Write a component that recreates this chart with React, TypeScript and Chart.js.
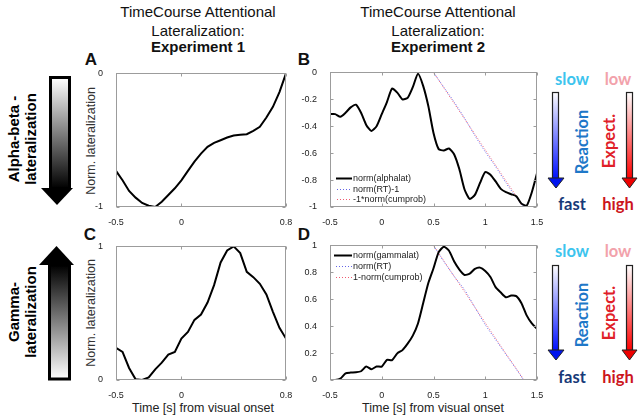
import React, { useEffect, useRef } from "react";
import { Chart, registerables } from "chart.js";

Chart.register(...registerables);

// ---------------- data ----------------
const timeExp1 = [-0.5, -0.45, -0.4, -0.35, -0.3, -0.25, -0.2, -0.15, -0.1, -0.05, 0, 0.05, 0.1, 0.15, 0.2, 0.25, 0.3, 0.35, 0.4, 0.45, 0.5, 0.55, 0.6, 0.65, 0.7, 0.75, 0.8];
const alphaExp1 = [-0.73, -0.8, -0.88, -0.93, -0.97, -0.99, -1.0, -0.96, -0.91, -0.86, -0.8, -0.73, -0.66, -0.6, -0.55, -0.52, -0.5, -0.48, -0.465, -0.46, -0.455, -0.43, -0.4, -0.33, -0.25, -0.14, 0];
const gammaExp1 = [0.24, 0.21, 0.09, 0.005, 0.0, 0.02, 0.08, 0.13, 0.19, 0.21, 0.31, 0.36, 0.45, 0.49, 0.58, 0.71, 0.88, 0.97, 1.0, 0.95, 0.81, 0.77, 0.72, 0.64, 0.51, 0.39, 0.31];

const timeExp2 = [-0.5, -0.45, -0.4, -0.35, -0.3, -0.25, -0.2, -0.15, -0.1, -0.05, 0, 0.05, 0.1, 0.15, 0.2, 0.25, 0.3, 0.35, 0.4, 0.45, 0.5, 0.55, 0.6, 0.65, 0.7, 0.75, 0.8, 0.85, 0.9, 0.95, 1, 1.05, 1.1, 1.15, 1.2, 1.25, 1.3, 1.35, 1.4, 1.45, 1.5];
const alphaExp2 = [-0.31, -0.31, -0.33, -0.3, -0.26, -0.24, -0.3, -0.39, -0.435, -0.4, -0.31, -0.22, -0.12, -0.15, -0.2, -0.19, -0.11, -0.01, -0.1, -0.25, -0.45, -0.57, -0.58, -0.565, -0.61, -0.72, -0.87, -0.94, -0.91, -0.82, -0.74, -0.76, -0.81, -0.865, -0.89, -0.905, -0.92, -0.975, -0.99, -0.89, -0.75];
const gammaExp2 = [0.0, 0.0, 0.01, 0.05, 0.055, 0.057, 0.065, 0.1, 0.08, 0.1, 0.1, 0.15, 0.148, 0.198, 0.222, 0.27, 0.33, 0.42, 0.57, 0.72, 0.83, 0.95, 0.99, 0.96, 0.88, 0.82, 0.78, 0.79, 0.825, 0.835, 0.81, 0.765, 0.69, 0.65, 0.615, 0.627, 0.623, 0.57, 0.48, 0.42, 0.38];

const rtTimeB = [0.5, 0.6, 0.7, 0.8, 0.9, 1.0, 1.1, 1.2, 1.3, 1.37];
const rtB = [0, -0.11, -0.22, -0.34, -0.47, -0.59, -0.7, -0.82, -0.93, -1];
const cumTimeB = [0.5, 0.6, 0.7, 0.8, 0.9, 1.0, 1.1, 1.2, 1.3, 1.36];
const cumB = [0, -0.115, -0.23, -0.345, -0.46, -0.575, -0.69, -0.805, -0.92, -1];

const rtTimeD = [0.5, 0.6, 0.7, 0.8, 0.9, 1.0, 1.1, 1.2, 1.3, 1.37];
const rtD = [1, 0.88, 0.77, 0.67, 0.54, 0.41, 0.3, 0.19, 0.08, 0];
const cumTimeD = [0.5, 0.6, 0.7, 0.8, 0.9, 1.0, 1.1, 1.2, 1.3, 1.375];
const cumD = [1, 0.885, 0.77, 0.655, 0.54, 0.425, 0.31, 0.195, 0.085, 0];

const xTicksExp1 = [-0.5, 0, 0.8];
const xTicksExp2 = [-0.5, 0, 0.5, 1, 1.5];
const yTicksA = [-1, 0];
const yTicksB = [-1, -0.8, -0.6, -0.4, -0.2, 0];
const yTicksC = [0, 1];
const yTicksD = [0, 0.2, 0.4, 0.6, 0.8, 1];

const labelsB = ["norm(alphalat)", "norm(RT)-1", "-1*norm(cumprob)"];
const labelsD = ["norm(gammalat)", "norm(RT)", "1-norm(cumprob)"];

// ---------------- helpers ----------------
const FONT = 'Arial, "Liberation Sans", sans-serif';
const PADL = 30;
const PADT = 10;
const PADR = 12;
const XH = 18;

const pts = (xs: number[], ys: number[]) => xs.map((x, i) => ({ x, y: ys[i] }));

const boxPlugin = {
  id: "matlabBox",
  afterDraw(chart: any) {
    const { ctx, chartArea: a, scales } = chart;
    ctx.save();
    ctx.strokeStyle = "#9c9c9c";
    ctx.lineWidth = 1;
    const l = Math.round(a.left) + 0.5;
    const t = Math.round(a.top) + 0.5;
    const r = Math.round(a.right) - 0.5;
    const b = Math.round(a.bottom) - 0.5;
    ctx.strokeRect(l, t, r - l, b - t);
    ctx.beginPath();
    scales.x.ticks.forEach((tk: any) => {
      const px = Math.round(scales.x.getPixelForValue(tk.value)) + 0.5;
      ctx.moveTo(px, b);
      ctx.lineTo(px, b - 3);
      ctx.moveTo(px, t);
      ctx.lineTo(px, t + 3);
    });
    scales.y.ticks.forEach((tk: any) => {
      const py = Math.round(scales.y.getPixelForValue(tk.value)) + 0.5;
      ctx.moveTo(l, py);
      ctx.lineTo(l + 3, py);
      ctx.moveTo(r, py);
      ctx.lineTo(r - 3, py);
    });
    ctx.stroke();
    ctx.restore();
  },
};

const legendPlugin = {
  id: "insideLegend",
  afterDatasetsDraw(chart: any, _args: any, opts: any) {
    if (!opts || !opts.show) return;
    const { ctx, chartArea: a } = chart;
    ctx.save();
    ctx.font = "9px " + FONT;
    ctx.textBaseline = "middle";
    chart.data.datasets.forEach((ds: any, i: number) => {
      const y = Math.round(a.top + opts.y + i * opts.dy) + 0.5;
      ctx.beginPath();
      ctx.setLineDash(ds.borderDash || []);
      ctx.strokeStyle = ds.borderColor;
      ctx.lineWidth = ds.borderWidth;
      ctx.moveTo(a.left + (i === 0 ? opts.x0b : opts.x0), y);
      ctx.lineTo(a.left + opts.x1, y);
      ctx.stroke();
      ctx.setLineDash([]);
      ctx.fillStyle = "#222";
      ctx.fillText(ds.label, a.left + opts.tx, y);
    });
    ctx.restore();
  },
};

type PanelProps = {
  L: number; T: number; R: number; B: number;
  xMin: number; xMax: number; yMin: number; yMax: number;
  xTicks: number[]; yTicks: number[];
  datasets: any[];
  legend?: any;
  tension?: number;
};

function Panel(p: PanelProps) {
  const ref = useRef<HTMLCanvasElement>(null);
  const w = p.R - p.L + PADL + PADR;
  const h = p.B - p.T + PADT + XH;
  useEffect(() => {
    if (!ref.current) return;
    const tickFont = { family: FONT, size: 9 };
    const chart = new Chart(ref.current, {
      type: "line",
      data: { datasets: p.datasets },
      options: {
        responsive: false,
        animation: false,
        devicePixelRatio: 1,
        layout: { padding: { top: PADT, right: PADR, left: 0, bottom: 0 } },
        elements: { point: { radius: 0 }, line: { tension: p.tension ?? 0 } },
        plugins: {
          legend: { display: false },
          tooltip: { enabled: false },
          insideLegend: p.legend || { show: false },
        } as any,
        scales: {
          x: {
            type: "linear",
            min: p.xMin,
            max: p.xMax,
            grid: { display: false },
            border: { display: false },
            afterBuildTicks: (s: any) => { s.ticks = p.xTicks.map((v) => ({ value: v })); },
            afterFit: (s: any) => { s.height = XH; },
            ticks: { padding: 2, font: tickFont, color: "#222", maxRotation: 0, autoSkip: false, callback: (v: any) => String(v) },
          },
          y: {
            type: "linear",
            min: p.yMin,
            max: p.yMax,
            grid: { display: false },
            border: { display: false },
            afterBuildTicks: (s: any) => { s.ticks = p.yTicks.map((v) => ({ value: v })); },
            afterFit: (s: any) => { s.width = PADL; },
            ticks: { padding: 5, font: tickFont, color: "#222", autoSkip: false, callback: (v: any) => String(v) },
          },
        },
      },
      plugins: [boxPlugin, legendPlugin],
    } as any);
    return () => chart.destroy();
  }, []);
  return (
    <canvas
      ref={ref}
      width={w}
      height={h}
      style={{ position: "absolute", left: p.L - PADL, top: p.T - PADT, width: w, height: h }}
    />
  );
}

function Txt(props: { x: number; y: number; text: string; size: number; bold?: boolean; color?: string; rot?: boolean; family?: string }) {
  return (
    <div
      style={{
        position: "absolute",
        left: props.x,
        top: props.y,
        transform: "translate(-50%,-50%)" + (props.rot ? " rotate(-90deg)" : ""),
        fontFamily: props.family || FONT,
        fontSize: props.size,
        fontWeight: props.bold ? 700 : 400,
        color: props.color || "#111",
        lineHeight: 1,
        whiteSpace: "nowrap",
      }}
    >
      {props.text}
    </div>
  );
}

function TwoLine(props: { x: number; y: number; a: string; b: string }) {
  return (
    <div
      style={{
        position: "absolute",
        left: props.x,
        top: props.y,
        transform: "translate(-50%,-50%) rotate(-90deg)",
        fontFamily: FONT,
        fontSize: 15,
        fontWeight: 700,
        color: "#000",
        lineHeight: "17px",
        whiteSpace: "nowrap",
        textAlign: "center",
      }}
    >
      <div>{props.a}</div>
      <div>{props.b}</div>
    </div>
  );
}

const LABEL_FONT = 'Lato, "Open Sans", Arial, sans-serif';

export default function App() {
  const black = (label: string, xs: number[], ys: number[]) => ({
    label, data: pts(xs, ys), borderColor: "#000", borderWidth: 2, fill: false, order: 0,
  });
  const dotted = (label: string, xs: number[], ys: number[], color: string, offset: number) => ({
    label, data: pts(xs, ys), borderColor: color, borderWidth: 1, borderDash: [1, 2], borderDashOffset: offset, fill: false, order: 1,
  });

  const dsA = [black("alpha", timeExp1, alphaExp1)];
  const dsC = [black("gamma", timeExp1, gammaExp1)];
  const dsB = [
    black(labelsB[0], timeExp2, alphaExp2),
    dotted(labelsB[1], rtTimeB, rtB, "#6464e8", 0),
    dotted(labelsB[2], cumTimeB, cumB, "#f05a70", 1.5),
  ];
  const dsD = [
    black(labelsD[0], timeExp2, gammaExp2),
    dotted(labelsD[1], rtTimeD, rtD, "#6464e8", 0),
    dotted(labelsD[2], cumTimeD, cumD, "#f05a70", 1.5),
  ];

  return (
    <div style={{ position: "absolute", left: 0, top: 0, width: 640, height: 418, background: "#fff", overflow: "hidden" }}>
      {/* titles */}
      <Txt x={198} y={11} text="TimeCourse Attentional" size={15} />
      <Txt x={198} y={30} text="Lateralization:" size={15} />
      <Txt x={198} y={46} text="Experiment 1" size={15} bold />
      <Txt x={438} y={11} text="TimeCourse Attentional" size={15} />
      <Txt x={438} y={30} text="Lateralization:" size={15} />
      <Txt x={438} y={46} text="Experiment 2" size={15} bold />

      {/* panel letters */}
      <Txt x={91} y={59} text="A" size={17} bold />
      <Txt x={304} y={59} text="B" size={17} bold />
      <Txt x={90} y={234} text="C" size={17} bold />
      <Txt x={304} y={234} text="D" size={17} bold />

      {/* y-axis titles */}
      <Txt x={91} y={141} text="Norm. lateralization" size={12.5} color="#333" rot />
      <Txt x={91} y={313} text="Norm. lateralization" size={12.5} color="#333" rot />

      {/* x-axis titles */}
      <Txt x={203} y={408} text="Time [s] from visual onset" size={12.5} color="#222" />
      <Txt x={433} y={408} text="Time [s] from visual onset" size={12.5} color="#222" />

      {/* left labels */}
      <TwoLine x={22} y={139} a="Alpha-beta -" b="lateralization" />
      <TwoLine x={22} y={312} a="Gamma-" b="lateralization" />

      {/* right labels */}
      <Txt x={572} y={79} text="slow" size={16.5} bold color="#3cc4ee" family={LABEL_FONT} />
      <Txt x={618} y={79} text="low" size={16.5} bold color="#f2a2ab" family={LABEL_FONT} />
      <Txt x={582} y={142} text="Reaction" size={16.5} bold color="#1f78c8" family={LABEL_FONT} rot />
      <Txt x={609} y={141} text="Expect." size={16.5} bold color="#e02028" family={LABEL_FONT} rot />
      <Txt x={572} y={204} text="fast" size={16.5} bold color="#173a78" family={LABEL_FONT} />
      <Txt x={618} y={204} text="high" size={16.5} bold color="#cc1420" family={LABEL_FONT} />

      <Txt x={572} y={251} text="slow" size={16.5} bold color="#3cc4ee" family={LABEL_FONT} />
      <Txt x={618} y={251} text="low" size={16.5} bold color="#f2a2ab" family={LABEL_FONT} />
      <Txt x={582} y={315} text="Reaction" size={16.5} bold color="#1f78c8" family={LABEL_FONT} rot />
      <Txt x={609} y={313} text="Expect." size={16.5} bold color="#e02028" family={LABEL_FONT} rot />
      <Txt x={572} y={377} text="fast" size={16.5} bold color="#173a78" family={LABEL_FONT} />
      <Txt x={618} y={377} text="high" size={16.5} bold color="#cc1420" family={LABEL_FONT} />

      {/* arrows */}
      <svg width={640} height={418} style={{ position: "absolute", left: 0, top: 0 }}>
        <defs>
          <linearGradient id="gDown" x1="0" y1="0" x2="0" y2="1">
            <stop offset="0" stopColor="#ffffff" />
            <stop offset="1" stopColor="#000000" />
          </linearGradient>
          <linearGradient id="gUp" x1="0" y1="0" x2="0" y2="1">
            <stop offset="0" stopColor="#000000" />
            <stop offset="1" stopColor="#ffffff" />
          </linearGradient>
          <linearGradient id="gBlue" x1="0" y1="0" x2="0" y2="1">
            <stop offset="0" stopColor="#ffffff" />
            <stop offset="1" stopColor="#0010ff" />
          </linearGradient>
          <linearGradient id="gRed" x1="0" y1="0" x2="0" y2="1">
            <stop offset="0" stopColor="#ffffff" />
            <stop offset="1" stopColor="#ff0000" />
          </linearGradient>
        </defs>
        {/* A arrow (down) */}
        <rect x={50.5} y={77.5} width={19} height={111} fill="url(#gDown)" stroke="#000" strokeWidth={3} />
        <polygon points="41,188 73,188 57,205" fill="#000" />
        {/* C arrow (up) */}
        <polygon points="39,265 74,265 56.5,246" fill="#000" />
        <rect x={49.5} y={265} width={20} height={114} fill="url(#gUp)" stroke="#000" strokeWidth={3} />

        {/* right top arrows */}
        <rect x={552.5} y={92.5} width={6} height={86} fill="url(#gBlue)" stroke="#222" strokeWidth={1.2} />
        <polygon points="548,178 564,178 556,188" fill="#0014ee" stroke="#222" strokeWidth={1} />
        <rect x={626.5} y={92.5} width={6} height={86} fill="url(#gRed)" stroke="#222" strokeWidth={1.2} />
        <polygon points="622,178 637,178 629.5,188" fill="#ee0000" stroke="#222" strokeWidth={1} />

        {/* right bottom arrows */}
        <rect x={552.5} y={265.5} width={6} height={85} fill="url(#gBlue)" stroke="#222" strokeWidth={1.2} />
        <polygon points="548,350 564,350 556,360" fill="#0014ee" stroke="#222" strokeWidth={1} />
        <rect x={626.5} y={265.5} width={6} height={85} fill="url(#gRed)" stroke="#222" strokeWidth={1.2} />
        <polygon points="622,350 637,350 629.5,360" fill="#ee0000" stroke="#222" strokeWidth={1} />
      </svg>

      <Panel L={116} T={73} R={286} B={207} xMin={-0.5} xMax={0.8} yMin={-1} yMax={0}
        xTicks={xTicksExp1} yTicks={yTicksA} datasets={dsA} />
      <Panel L={330} T={72} R={537} B={207} xMin={-0.5} xMax={1.5} yMin={-1} yMax={0}
        xTicks={xTicksExp2} yTicks={yTicksB} datasets={dsB} tension={0.2}
        legend={{ show: true, x0b: 6, x0: 7, x1: 22, tx: 23, y: 106, dy: 10.5 }} />
      <Panel L={116} T={246} R={286} B={380} xMin={-0.5} xMax={0.8} yMin={0} yMax={1}
        xTicks={xTicksExp1} yTicks={yTicksC} datasets={dsC} />
      <Panel L={330} T={245} R={537} B={380} xMin={-0.5} xMax={1.5} yMin={0} yMax={1}
        xTicks={xTicksExp2} yTicks={yTicksD} datasets={dsD} tension={0.2}
        legend={{ show: true, x0b: 4, x0: 6, x1: 22, tx: 23, y: 9.5, dy: 11 }} />
    </div>
  );
}
